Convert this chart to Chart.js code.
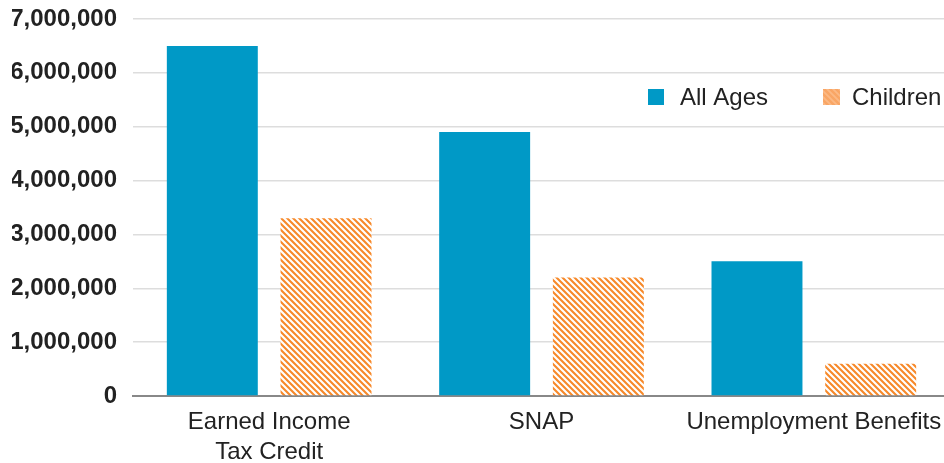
<!DOCTYPE html>
<html>
<head>
<meta charset="utf-8">
<script src="https://cdn.jsdelivr.net/npm/chart.js@4"></script>
<style>
  html, body { margin: 0; padding: 0; background: #fff; overflow: hidden; }
  #wrap { width: 950px; height: 463px; }
</style>
</head>
<body>
<div id="wrap"><canvas id="chart" width="950" height="463"></canvas></div>
<script>
// data
const categories = [["Earned Income", "Tax Credit"], "SNAP", "Unemployment Benefits"];
const allAges = [6500000, 4900000, 2500000];
const children = [3300000, 2200000, 600000];
const seriesNames = ["All Ages", "Children"];

const BLUE = "#0099c6";
const ORANGE = "#f7892a";
const FONT = "'Liberation Sans', Arial, sans-serif";

// diagonal stripes (top-left to bottom-right)
function hatch(bg, fg, size, lw) {
  const c = document.createElement("canvas");
  c.width = c.height = size;
  const x = c.getContext("2d");
  x.fillStyle = bg;
  x.fillRect(0, 0, size, size);
  x.strokeStyle = fg;
  x.lineWidth = lw;
  x.beginPath();
  x.moveTo(-1, -1); x.lineTo(size + 1, size + 1);
  x.moveTo(-2, size - 2); x.lineTo(2, size + 2);
  x.moveTo(size - 2, -2); x.lineTo(size + 2, 2);
  x.stroke();
  return x.createPattern(c, "repeat");
}

const stripes = hatch(ORANGE, "#ffffff", 6, 2.1);
const legendStripes = hatch("#f9a665", "#fbb985", 6, 1.8);

// legend drawn inside the plot at the right
const legendInside = {
  id: "legendInside",
  afterDraw(chart) {
    const ctx = chart.ctx;
    const a = chart.chartArea;
    const y = a.top + 78;
    ctx.save();
    ctx.font = "24px " + FONT;
    ctx.textBaseline = "middle";
    ctx.fillStyle = BLUE;
    ctx.fillRect(648, y - 8, 16, 16);
    ctx.fillStyle = "#222";
    ctx.fillText(seriesNames[0], 680, y + 1);
    ctx.fillStyle = legendStripes;
    ctx.fillRect(823, y - 8, 17, 16);
    ctx.fillStyle = "#222";
    ctx.fillText(seriesNames[1], 852, y + 1);
    ctx.restore();
  }
};

new Chart(document.getElementById("chart"), {
  type: "bar",
  data: {
    labels: categories,
    datasets: [
      { label: seriesNames[0], data: allAges, backgroundColor: BLUE },
      { label: seriesNames[1], data: children, backgroundColor: stripes }
    ]
  },
  options: {
    responsive: false,
    animation: false,
    devicePixelRatio: 1,
    layout: { padding: { top: 0, left: 12, right: 0, bottom: 0 } },
    datasets: { bar: { categoryPercentage: 0.835, barPercentage: 0.8 } },
    plugins: { legend: { display: false }, tooltip: { enabled: false } },
    scales: {
      x: {
        grid: { display: false },
        border: { display: true, color: "#888", width: 2 },
        afterFit: s => { s.height = 67; },
        ticks: {
          color: "#222",
          font: { family: FONT, size: 24, lineHeight: 1.25 },
          padding: 3,
          maxRotation: 0,
          autoSkip: false
        }
      },
      y: {
        min: 0,
        max: 7000000,
        grid: { color: "#dddddd", lineWidth: 1.5, drawTicks: false },
        border: { display: false },
        afterFit: s => { s.width = 121; s.paddingTop = 19; },
        ticks: {
          stepSize: 1000000,
          color: "#222",
          padding: 16,
          font: { family: FONT, size: 24, weight: "bold" },
          callback: v => v.toLocaleString("en-US")
        }
      }
    }
  },
  plugins: [legendInside]
});
</script>
</body>
</html>
